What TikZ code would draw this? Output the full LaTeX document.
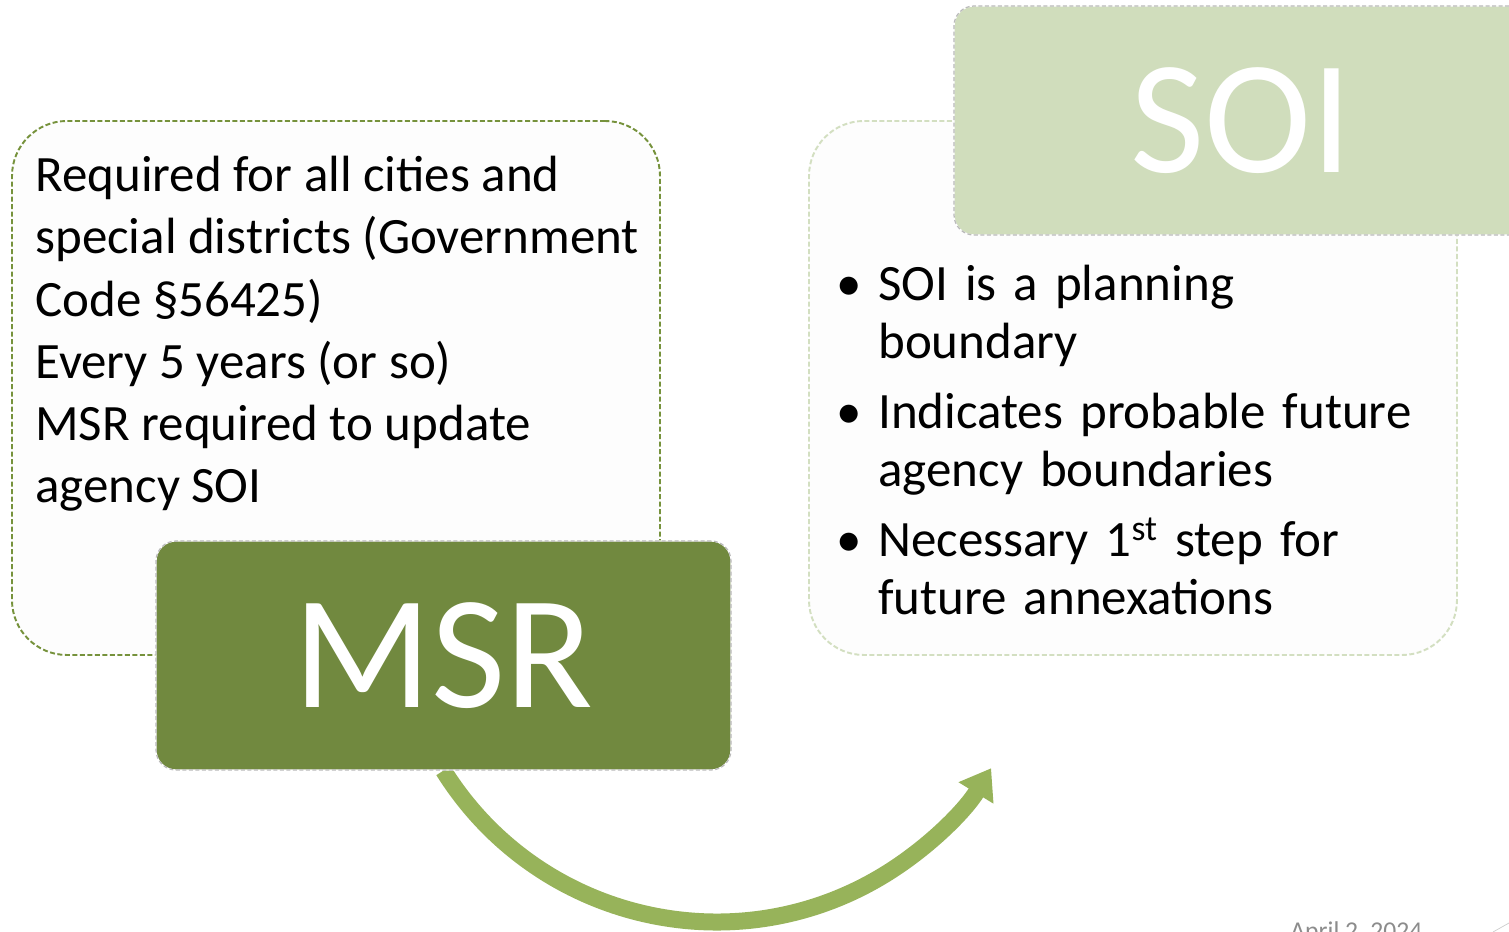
\documentclass[tikz,border=0pt]{standalone}
\usepackage{fontspec}
\setmainfont{Carlito}
\usetikzlibrary{arrows.meta,positioning}

\definecolor{msrgreen}{HTML}{71893F}
\definecolor{soigreen}{HTML}{D0DDBC}
\definecolor{arrowgreen}{HTML}{97B35A}
\definecolor{olive}{HTML}{76923C}
\definecolor{palegreen}{HTML}{D3DFC1}
\definecolor{boxfill}{HTML}{FDFDFD}
\definecolor{dategray}{HTML}{8C8C8C}

\pgfdeclarelayer{back}
\pgfsetlayers{back,main}

\newcommand{\bulletline}[1]{\hangindent=0.84cm\hangafter=1\noindent\makebox[0.84cm][l]{\textbullet}#1\par}

\begin{document}
\begin{tikzpicture}[
    infobox/.style={rectangle, rounded corners=1.1cm, fill=boxfill, line width=1.1pt, dash pattern=on 0.1cm off 0.05cm, minimum width=12.96cm, minimum height=10.68cm},
    titlebox/.style={rectangle, rounded corners=0.4cm, draw=white, line width=0.7pt, postaction={draw=gray!55, dash pattern=on 0.08cm off 0.05cm}, minimum width=11.5cm, minimum height=4.58cm, text=white, font=\fontsize{92}{100}\selectfont},
    bodytext/.style={anchor=north west, inner sep=0pt, align=left},
    arrow/.style={-{Triangle[length=0.58cm, width=0.78cm]}, line width=0.34cm, draw=arrowgreen}
]
    \useasboundingbox (0,0) rectangle (30.18,18.64);
    \clip (0,0) rectangle (30.18,18.64);

    % the two text panels
    \node [infobox, draw=olive] (msrinfo) at (6.72,10.88) {};
    \node [infobox, draw=palegreen] (soiinfo) at (22.66,10.88) {};

    % the two title tabs
    \node [titlebox, fill=msrgreen] (msr) at (8.87,5.53) {MSR};
    \node [titlebox, fill=soigreen] (soi) at (24.83,16.23) {SOI};

    \begin{pgfonlayer}{back}
        \draw [arrow] (msr.south) arc [start angle=212, end angle=328.5, radius=6.44cm];
    \end{pgfonlayer}

    \node [bodytext, font=\fontsize{29}{35.4}\selectfont] (msrtext) at (0.7,15.52) {Required for all cities and\\special districts (Government\\Code §56425)\\Every 5 years (or so)\\MSR required to update\\agency SOI};

    \node [bodytext, text width=12.4cm, font=\fontsize{29}{33}\selectfont] (soitext) at (16.72,13.34) {\raggedright\setlength{\parskip}{0.24cm}%
        \bulletline{SOI is a planning\newline boundary}
        \bulletline{Indicates probable future\newline agency boundaries}
        \bulletline{Necessary 1\textsuperscript{st} step for\newline future annexations}};

    \node [anchor=base west, inner sep=0pt, text=dategray, font=\fontsize{14.6}{16}\selectfont] (date) at (25.8,-0.14) {April 2, 2024};
    \draw [gray!40] (29.86,0) -- (30.18,0.18);
\end{tikzpicture}
\end{document}
